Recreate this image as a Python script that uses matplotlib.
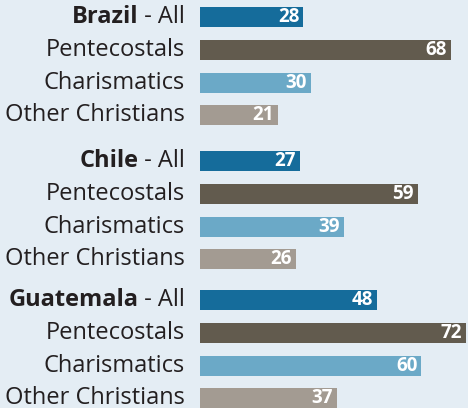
import matplotlib.pyplot as plt

countries = ["Brazil", "Chile", "Guatemala"]
groups = ["Pentecostals", "Charismatics", "Other Christians"]
all_vals = [28, 27, 48]
pente_vals = [68, 59, 72]
charis_vals = [30, 39, 60]
other_vals = [21, 26, 37]

colors = ["#156c9b", "#625b4e", "#6ba9c7", "#a39b92"]
bg = "#e4edf4"
txt = "#231f20"
font = "Open Sans"

fig = plt.figure(figsize=(4.68, 4.08), dpi=100, facecolor=bg)
ax = fig.add_axes([0, 0, 1, 1], facecolor=bg)
ax.set_xlim(-54.2, 72.6)
ax.set_ylim(408, 0)
ax.axis("off")

group_top = [17, 161, 300]
step = 32.8
bar_h = 20

for c, country in enumerate(countries):
    vals = [all_vals[c], pente_vals[c], charis_vals[c], other_vals[c]]
    for r, v in enumerate(vals):
        y = group_top[c] + r * step
        ax.barh(y, v, height=bar_h, color=colors[r], left=0)
        ax.annotate(str(v), xy=(v, y), xytext=(-3, 0), textcoords="offset points",
                    ha="right", va="center", color="white", fontsize=13.5,
                    fontweight="bold", family=font)
        if r == 0:
            t = ax.annotate(" - All", xy=(0, y), xytext=(-10.8, 0), textcoords="offset points",
                            ha="right", va="center", color=txt, fontsize=17, family=font)
            ax.annotate(country, xy=(0, 0), xycoords=t, ha="right", va="bottom",
                        color=txt, fontsize=17, fontweight="bold", family=font)
        else:
            ax.annotate(groups[r - 1], xy=(0, y), xytext=(-10.8, 0), textcoords="offset points",
                        ha="right", va="center", color=txt, fontsize=17, family=font)

fig.savefig("out.png", dpi=100, facecolor=bg)
